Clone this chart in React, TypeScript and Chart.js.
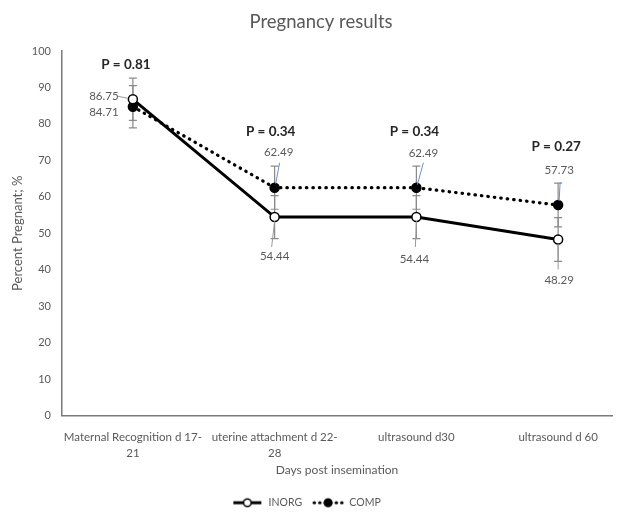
import React, { useEffect, useRef } from "react";
import { Chart, registerables } from "chart.js";

Chart.register(...registerables);

// ---- data ----
const chartTitle = "Pregnancy results";
const categories: (string | string[])[] = [
  ["Maternal Recognition d 17-", "21"],
  ["uterine attachment d 22-", "28"],
  "ultrasound d30",
  "ultrasound d 60",
];
const inorgValues = [86.75, 54.44, 54.44, 48.29];
const compValues = [84.71, 62.49, 62.49, 57.73];
const inorgErr = [5.8, 5.9, 5.9, 6.0];
const compErr = [5.8, 5.9, 5.9, 6.0];
const pLabels = ["P = 0.81", "P = 0.34", "P = 0.34", "P = 0.27"];
const yTicks = [0, 10, 20, 30, 40, 50, 60, 70, 80, 90, 100];

// ---- style ----
const FONT = "Lato, 'Open Sans', sans-serif";
const GRAY = "#595959";
const TITLE_POS = { x: 321, y: 22 };
const inorgLabelOffsets = [
  { dx: -29, dy: -3 },
  { dx: 0, dy: 39 },
  { dx: -2, dy: 42 },
  { dx: 1, dy: 41 },
];
const compLabelOffsets = [
  { dx: -29, dy: 6 },
  { dx: 4, dy: -35 },
  { dx: 7, dy: -34 },
  { dx: 1, dy: -35 },
];
const pOffsets = [
  { dx: -7, dy: -35 },
  { dx: -4, dy: -56 },
  { dx: -2, dy: -56 },
  { dx: -2, dy: -58 },
];
// leader lines relative to the point: [x1, y1, x2, y2]
const inorgLeaders = [
  [-15, -3, -5, -1],
  [0, 4, -3, 30],
  [0, 4, -1, 30],
  [0, 4, 0, 30],
];
const compLeaders = [null, [5, -25, 1, -4], [7, -25, 1, -3], [2, -23, 1, -4]];

function makeLegendIcon(dotted: boolean): HTMLCanvasElement {
  const c = document.createElement("canvas");
  c.width = 32;
  c.height = 12;
  const ctx = c.getContext("2d")!;
  ctx.strokeStyle = "#000";
  ctx.lineWidth = 3;
  if (dotted) {
    ctx.lineCap = "round";
    ctx.setLineDash([0.5, 5]);
  }
  ctx.beginPath();
  ctx.moveTo(2, 6);
  ctx.lineTo(30, 6);
  ctx.stroke();
  ctx.setLineDash([]);
  ctx.beginPath();
  ctx.arc(16, 6, 3.8, 0, Math.PI * 2);
  ctx.fillStyle = dotted ? "#000" : "#fff";
  ctx.fill();
  ctx.lineWidth = 1.5;
  ctx.stroke();
  return c;
}

const overlayPlugin = {
  id: "overlay",
  beforeDatasetsDraw(chart: any) {
    const ctx = chart.ctx;
    const y = chart.scales.y;
    const sets = [
      { vals: inorgValues, err: inorgErr, meta: chart.getDatasetMeta(0) },
      { vals: compValues, err: compErr, meta: chart.getDatasetMeta(1) },
    ];
    ctx.save();
    ctx.strokeStyle = "#8a8a8a";
    ctx.lineWidth = 1.2;
    sets.forEach((s) => {
      s.vals.forEach((v, i) => {
        const x = s.meta.data[i].x;
        const yt = y.getPixelForValue(v + s.err[i]);
        const yb = y.getPixelForValue(v - s.err[i]);
        ctx.beginPath();
        ctx.moveTo(x, yt);
        ctx.lineTo(x, yb);
        ctx.moveTo(x - 4, yt);
        ctx.lineTo(x + 4, yt);
        ctx.moveTo(x - 4, yb);
        ctx.lineTo(x + 4, yb);
        ctx.stroke();
      });
    });
    ctx.restore();
  },
  afterDatasetsDraw(chart: any) {
    const ctx = chart.ctx;
    const m0 = chart.getDatasetMeta(0);
    const m1 = chart.getDatasetMeta(1);
    ctx.save();
    ctx.lineWidth = 1;
    inorgLeaders.forEach((l, i) => {
      if (!l) return;
      const p = m0.data[i];
      ctx.strokeStyle = "#9a9a9a";
      ctx.beginPath();
      ctx.moveTo(p.x + l[0], p.y + l[1]);
      ctx.lineTo(p.x + l[2], p.y + l[3]);
      ctx.stroke();
    });
    compLeaders.forEach((l, i) => {
      if (!l) return;
      const p = m1.data[i];
      ctx.strokeStyle = "#6f8fc7";
      ctx.beginPath();
      ctx.moveTo(p.x + l[0], p.y + l[1]);
      ctx.lineTo(p.x + l[2], p.y + l[3]);
      ctx.stroke();
    });
    ctx.fillStyle = GRAY;
    ctx.font = `11.5px ${FONT}`;
    ctx.textAlign = "center";
    ctx.textBaseline = "middle";
    inorgValues.forEach((v, i) => {
      const p = m0.data[i];
      const o = inorgLabelOffsets[i];
      ctx.fillText(v.toFixed(2), p.x + o.dx, p.y + o.dy);
    });
    compValues.forEach((v, i) => {
      const p = m1.data[i];
      const o = compLabelOffsets[i];
      ctx.fillText(v.toFixed(2), p.x + o.dx, p.y + o.dy);
    });
    ctx.fillStyle = "#262626";
    ctx.font = `bold 13.5px ${FONT}`;
    pLabels.forEach((t, i) => {
      const p = m0.data[i];
      const top = Math.min(m0.data[i].y, m1.data[i].y);
      const o = pOffsets[i];
      ctx.fillText(t, p.x + o.dx, top + o.dy);
    });
    // chart title
    ctx.fillStyle = GRAY;
    ctx.font = `18.5px ${FONT}`;
    ctx.fillText(chartTitle, TITLE_POS.x, TITLE_POS.y);
    ctx.restore();
  },
};

export default function App() {
  const ref = useRef<HTMLCanvasElement>(null);
  useEffect(() => {
    const icons = [makeLegendIcon(false), makeLegendIcon(true)];
    const chart = new Chart(ref.current!, {
      type: "line",
      data: {
        datasets: [
          {
            label: "INORG",
            data: inorgValues.map((v, i) => ({ x: i, y: v })),
            borderColor: "#000",
            borderWidth: 3,
            pointRadius: 4.5,
            pointBackgroundColor: "#fff",
            pointBorderColor: "#000",
            pointBorderWidth: 1.5,
            tension: 0,
          },
          {
            label: "COMP",
            data: compValues.map((v, i) => ({ x: i, y: v })),
            borderColor: "#000",
            borderWidth: 3.2,
            borderDash: [0.5, 6],
            borderCapStyle: "round",
            pointRadius: 4.5,
            pointBackgroundColor: "#000",
            pointBorderColor: "#000",
            pointBorderWidth: 1.5,
            tension: 0,
          },
        ],
      },
      options: {
        animation: false,
        responsive: false,
        maintainAspectRatio: false,
        layout: { padding: { top: 51, left: 0, right: 6, bottom: -6 } },
        plugins: {
          title: { display: false },
          legend: {
            position: "bottom",
            labels: {
              usePointStyle: true,
              pointStyleWidth: 32,
              color: GRAY,
              font: { family: FONT, size: 10.5 },
              padding: 10,
              generateLabels(c: any) {
                const items = Chart.defaults.plugins.legend.labels.generateLabels(c);
                items.forEach((it: any, i: number) => {
                  it.pointStyle = icons[i];
                });
                return items;
              },
            },
          },
          tooltip: { enabled: false },
        },
        scales: {
          x: {
            type: "linear",
            min: -0.5,
            max: 3.38,
            bounds: "data",
            grid: { display: false, drawTicks: false },
            border: { display: true, color: "#7a7a7a", width: 1.5 },
            afterBuildTicks(s: any) {
              s.ticks = categories.map((_, i) => ({ value: i }));
            },
            ticks: {
              autoSkip: false,
              maxRotation: 0,
              minRotation: 0,
              padding: 13,
              color: GRAY,
              font: { family: FONT, size: 11.5, lineHeight: 1.45 },
              callback: (v: any) => {
                const k = Math.round(Number(v));
                return categories[k] !== undefined ? categories[k] : "";
              },
            },
            title: {
              display: true,
              text: "Days post insemination",
              color: GRAY,
              font: { family: FONT, size: 12 },
              padding: { top: 4, bottom: 10 },
            },
            afterFit(s: any) {
              s.height = 72;
            },
          },
          y: {
            min: 0,
            max: 100,
            grid: { display: false, drawTicks: false },
            border: { display: true, color: "#7a7a7a", width: 1.5 },
            afterBuildTicks(s: any) {
              s.ticks = yTicks.map((v) => ({ value: v }));
            },
            ticks: {
              padding: 11,
              color: GRAY,
              font: { family: FONT, size: 11 },
            },
            title: {
              display: true,
              text: "Percent Pregnant; %",
              color: GRAY,
              font: { family: FONT, size: 13 },
              padding: { top: 10, bottom: 0 },
            },
            afterFit(s: any) {
              s.width = 62;
            },
          },
        },
      },
      plugins: [overlayPlugin],
    } as any);
    return () => chart.destroy();
  }, []);
  return (
    <div style={{ position: "fixed", left: 0, top: 0, width: 618, height: 512, background: "#fff" }}>
      <canvas ref={ref} width={618} height={512} style={{ width: 618, height: 512 }} />
    </div>
  );
}
